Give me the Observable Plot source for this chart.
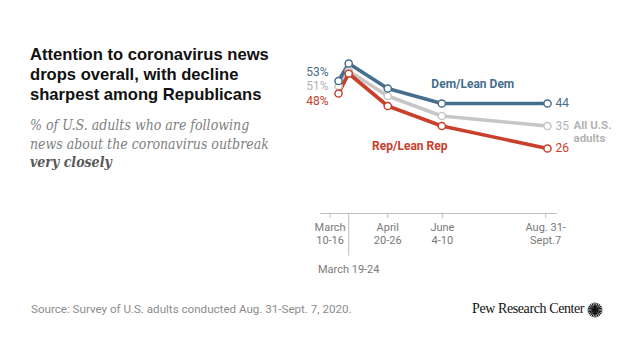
<!DOCTYPE html>
<html>
<head>
<meta charset="utf-8">
<script src="https://cdn.jsdelivr.net/npm/d3@7"></script>
<script src="https://cdn.jsdelivr.net/npm/@observablehq/plot@0.6"></script>
<style>
  html, body { margin: 0; padding: 0; background: #fff; }
  #wrap { position: relative; width: 640px; height: 360px; overflow: hidden; font-family: Roboto, "Liberation Sans", sans-serif; }
  #title { position: absolute; left: 30px; top: 45px; width: 270px; font-family: "Liberation Sans", Arial, sans-serif; font-weight: bold; font-size: 16.6px; line-height: 20px; color: #111; }
  #subtitle { position: absolute; left: 30px; top: 116px; width: 280px; white-space: nowrap; font-family: "DejaVu Serif Condensed", "DejaVu Serif", serif; font-style: italic; font-size: 14px; line-height: 18.5px; color: #808080; }
  #subtitle b { color: #595959; }
  #source { position: absolute; left: 31px; top: 302px; font-family: Roboto, sans-serif; font-size: 11.6px; color: #8c8c8c; }
  #logo { position: absolute; left: 472px; top: 301px; font-family: "Liberation Serif", "DejaVu Serif", serif; font-size: 14px; letter-spacing: -0.4px; color: #111; white-space: nowrap; }
  #burst { position: absolute; left: 587px; top: 302px; }
  #chart { position: absolute; left: 0; top: 0; }
</style>
</head>
<body>
<div id="wrap">
  <div id="chart"></div>
  <div id="title">Attention to coronavirus news drops overall, with decline sharpest among Republicans</div>
  <div id="subtitle">% of U.S. adults who are following<br>news about the coronavirus outbreak<br><b>very closely</b></div>
  <div id="source">Source: Survey of U.S. adults conducted Aug. 31-Sept. 7, 2020.</div>
  <div id="logo">Pew Research Center</div>
  <svg id="burst" width="16" height="16" viewBox="-8 -8 16 16"></svg>
</div>
<script>
// Survey waves (midpoint dates of field periods)
const waveDates = ["2020-03-13", "2020-03-21T12:00", "2020-04-23", "2020-06-07", "2020-09-03"];
const waveNames = ["March 10-16", "March 19-24", "April 20-26", "June 4-10", "Aug. 31-Sept. 7"];
const demValues = [53, 60, 50, 44, 44];
const allValues = [51, 57, 47, 39, 35];
const repValues = [48, 56, 43, 35, 26];
const seriesNames = ["All U.S. adults", "Rep/Lean Rep", "Dem/Lean Dem"];
const seriesColors = ["#c6c6c6", "#c8402b", "#466e8d"];
const labelColors = ["#b3b3b3", "#c8402b", "#466e8d"];
const tickDates = ["2020-03-06", "2020-04-23", "2020-06-07T12:00", "2020-09-01T12:00"];
const tickLabels = ["March\n10-16", "April\n20-26", "June\n4-10", "Aug. 31-\nSept.7"];

const seriesValues = [allValues, repValues, demValues];
const rows = [];
seriesValues.forEach((vals, s) => vals.forEach((v, i) => rows.push({series: seriesNames[s], date: new Date(waveDates[i]), value: v, idx: i})));
const first = rows.filter(d => d.idx === 0);
const last = rows.filter(d => d.idx === waveDates.length - 1);
const colorScale = {domain: seriesNames, range: seriesColors};
const txt = name => labelColors[seriesNames.indexOf(name)];
const tickMap = new Map(tickDates.map((d, i) => [+new Date(d), tickLabels[i]]));

const chart = Plot.plot({
  width: 640,
  height: 360,
  marginLeft: 320,
  marginRight: 83,
  marginTop: 13,
  marginBottom: 147,
  style: {fontFamily: "Roboto, 'Liberation Sans', sans-serif", background: "transparent", overflow: "visible"},
  x: {type: "utc", domain: [new Date("2020-02-27"), new Date("2020-09-11T08:00")]},
  y: {domain: [0, 80], axis: null},
  color: colorScale,
  marks: [
    Plot.ruleY([0], {stroke: "#bdbdbd", strokeWidth: 1}),
    Plot.axisX({ticks: tickDates.map(d => new Date(d)), tickFormat: d => tickMap.get(+d), tickSize: 5, tickPadding: 4, fontSize: 11, lineHeight: 1.15, color: "#7a7a7a", stroke: "#bdbdbd", label: null}),
    Plot.ruleX([new Date(waveDates[1])], {y1: 0, y2: -17, stroke: "#bdbdbd", strokeWidth: 1, clip: false}),
    Plot.text([waveNames[1]], {x: () => new Date(waveDates[1]), y: () => -17, dy: 13, text: d => d, fontSize: 11, fill: "#7a7a7a"}),
    Plot.line(rows, {x: "date", y: "value", z: "series", stroke: "series", strokeWidth: 3.6, strokeLinejoin: "round"}),
    Plot.dot(rows, {x: "date", y: "value", stroke: "series", fill: "white", r: 3.6, strokeWidth: 1.5}),
    // start labels
    Plot.text(first.filter(d => d.series === "Dem/Lean Dem"), {x: "date", y: "value", text: d => d.value + "%", textAnchor: "end", dx: -10, dy: -9, fontSize: 12, fill: d => txt(d.series)}),
    Plot.text(first.filter(d => d.series === "All U.S. adults"), {x: "date", y: "value", text: d => d.value + "%", textAnchor: "end", dx: -10, dy: 0, fontSize: 12, fill: d => txt(d.series)}),
    Plot.text(first.filter(d => d.series === "Rep/Lean Rep"), {x: "date", y: "value", text: d => d.value + "%", textAnchor: "end", dx: -10, dy: 8, fontSize: 12, fill: d => txt(d.series)}),
    // end labels
    Plot.text(last, {x: "date", y: "value", text: d => String(d.value), textAnchor: "start", dx: 8, fontSize: 12, fill: d => txt(d.series)}),
    // series labels
    Plot.text(last.filter(d => d.series === "All U.S. adults"), {x: "date", y: "value", text: () => "All U.S.\nadults", textAnchor: "start", lineAnchor: "top", dx: 26, dy: -6, fontSize: 11.5, fontWeight: "bold", lineHeight: 1.1, fill: d => txt(d.series)}),
    Plot.text(rows.filter(d => d.series === "Dem/Lean Dem" && d.idx === 3), {x: "date", y: "value", text: d => d.series, dx: 31, dy: -19, fontSize: 12, fontWeight: "bold", fill: d => txt(d.series)}),
    Plot.text(rows.filter(d => d.series === "Rep/Lean Rep" && d.idx === 2), {x: "date", y: "value", text: d => d.series, dx: 22, dy: 40, fontSize: 12, fontWeight: "bold", fill: d => txt(d.series)})
  ]
});
document.getElementById("chart").appendChild(chart);

// Pew sunburst logo glyph
const burst = d3.select("#burst");
d3.range(22).forEach(i => {
  const a = i / 22 * 2 * Math.PI;
  burst.append("line").attr("x1", Math.cos(a) * 2).attr("y1", Math.sin(a) * 2)
    .attr("x2", Math.cos(a) * 7.5).attr("y2", Math.sin(a) * 7.5)
    .attr("stroke", "#111").attr("stroke-width", 1.1);
});
burst.append("circle").attr("r", 2.2).attr("fill", "#111");
</script>
</body>
</html>
